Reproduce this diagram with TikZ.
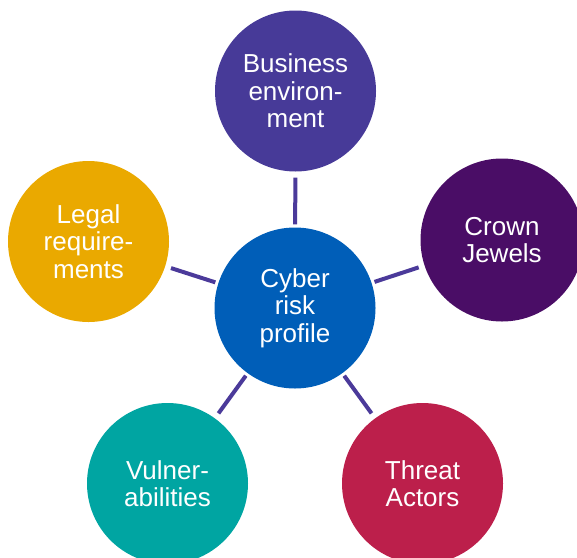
\documentclass[tikz,border=0pt]{standalone}
\usepackage{fontspec}
\setmainfont{Liberation Sans}
\definecolor{cbiz}{HTML}{473A98}
\definecolor{ccrown}{HTML}{4A0D66}
\definecolor{clegal}{HTML}{EAA900}
\definecolor{ccenter}{HTML}{005EB8}
\definecolor{cvuln}{HTML}{00A5A2}
\definecolor{cthreat}{HTML}{BC1F4B}
\definecolor{clink}{HTML}{4B3A9A}
\tikzset{
  bubble/.style={circle, minimum size=161pt, inner sep=0pt, text=white, align=center,
    font=\fontsize{26}{27.5}\selectfont},
  link/.style={draw=clink, line width=4pt, shorten <=3pt, shorten >=6pt}
}
\begin{document}
\begin{tikzpicture}[x=1pt,y=-1pt]
\useasboundingbox (0,0) rectangle (577,557);
\clip (0,0) rectangle (577,557);
\node[bubble, fill=ccenter] (c) at (295,308) {Cyber\\risk\\profile};
\node[bubble, fill=cbiz] (b) at (295.5,91) {Business\\environ-\\ment};
\node[bubble, fill=ccrown, minimum size=163pt] (j) at (502,240) {Crown\\Jewels};
\node[bubble, fill=clegal] (l) at (88.5,241.5) {Legal\\require-\\ments};
\node[bubble, fill=cvuln] (v) at (167.5,483.5) {Vulner-\\abilities};
\node[bubble, fill=cthreat] (t) at (422.5,483.5) {Threat\\Actors};
\draw[link] (c) -- (b);
\draw[link] (c) -- (j);
\draw[link] (c) -- (l);
\draw[link] (c) -- (v);
\draw[link] (c) -- (t);
\end{tikzpicture}
\end{document}
